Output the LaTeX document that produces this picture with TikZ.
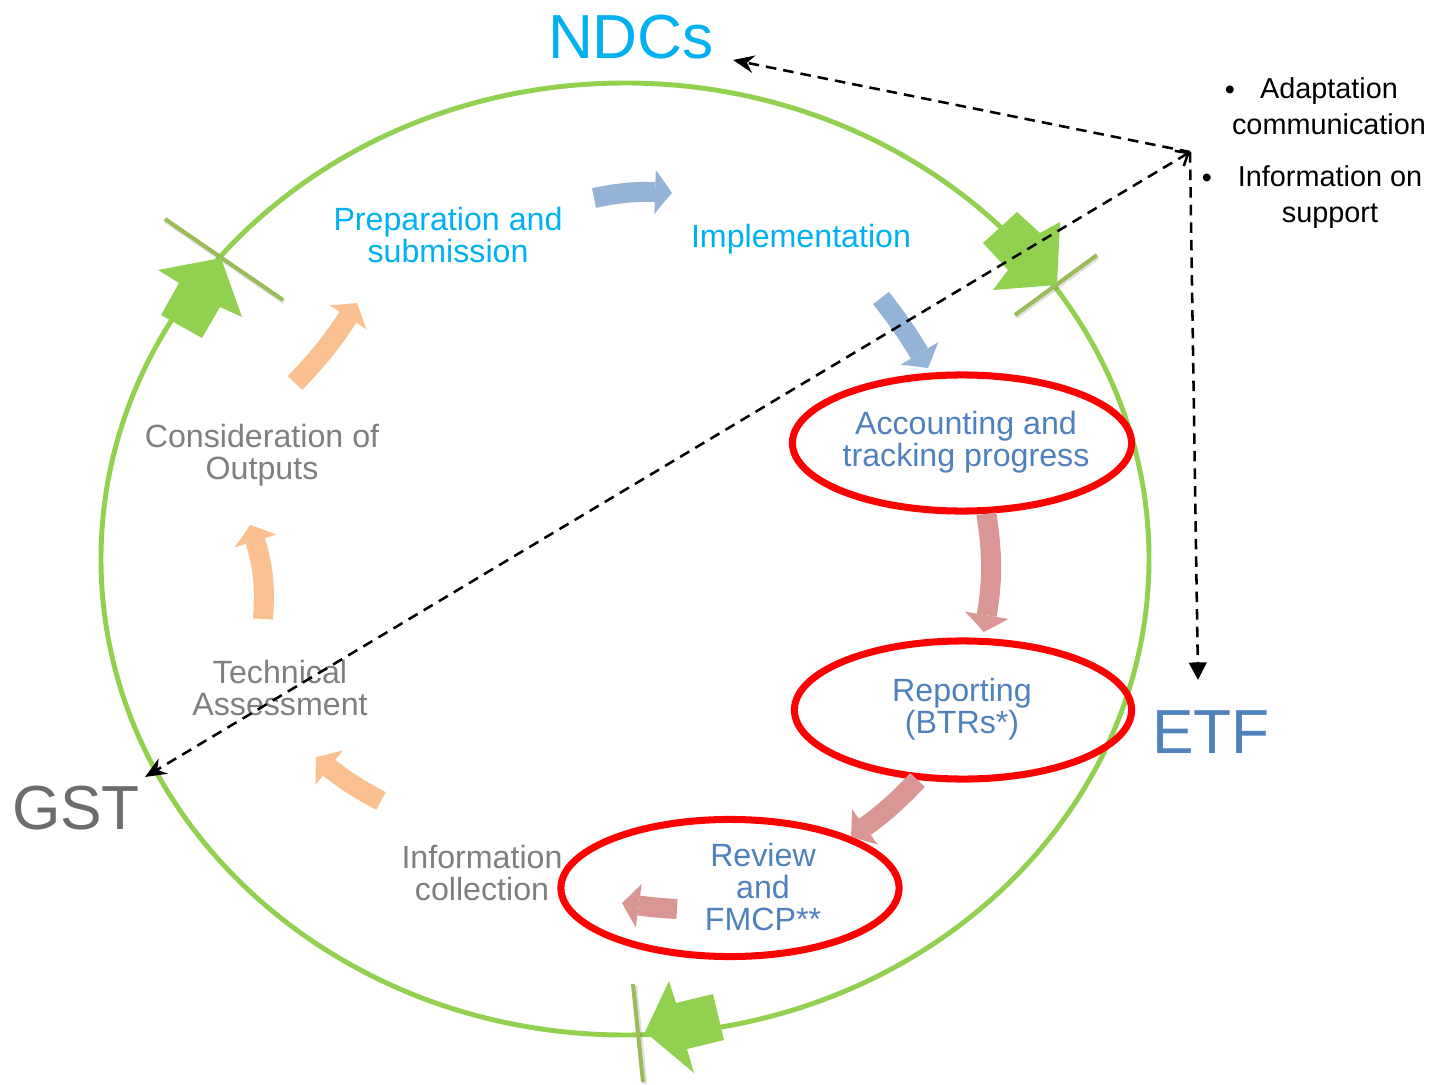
\documentclass[tikz,border=0pt]{standalone}
\usepackage{fontspec}
\setmainfont{Liberation Sans}
\usetikzlibrary{arrows.meta,shapes.geometric,bending}
\definecolor{cgreen}{RGB}{146,208,80}
\definecolor{colive}{RGB}{155,187,89}
\definecolor{ccyan}{RGB}{0,176,240}
\definecolor{csteel}{RGB}{79,129,189}
\definecolor{cgray}{RGB}{127,127,127}
\definecolor{cblue}{RGB}{149,179,215}
\definecolor{corange}{RGB}{250,192,144}
\definecolor{cpink}{RGB}{217,150,148}
\definecolor{cred}{RGB}{255,0,0}
\begin{document}
\begin{tikzpicture}[x=0.01cm,y=-0.01cm,
  lbl/.style={inner sep=0pt, align=center, font=\fontsize{9.15}{9.1}\selectfont},
  side/.style={inner sep=0pt, align=center, font=\fontsize{8.2}{10.25}\selectfont},
  big/.style={inner sep=0pt, font=\fontsize{17.7}{20}\selectfont},
  redell/.style={ellipse, draw=cred, line width=2pt, inner sep=0pt},
  fatarrow/.style={draw=#1, line width=5.7pt,
    -{Triangle[length=4.8pt, width=12.5pt, bend, line width=0pt, fill=#1]}},
  tick/.style={draw=colive, line width=1.15pt},
  tickshadow/.style={draw=black, opacity=0.12, line width=1.3pt},
  dashline/.style={draw=black, line width=0.72pt, dash pattern=on 3pt off 2pt}
]
\useasboundingbox (0,0) rectangle (1439,1085);

% main cycle
\draw[cgreen, line width=1.4pt] (625,559) ellipse [x radius=524, y radius=476];

% tick marks
\draw[tickshadow] (166,221) -- (284,302);
\draw[tick] (165,219) -- (283,300);
\draw[tickshadow] (1016,317) -- (1098,257);
\draw[tick] (1015,315) -- (1097,255);
\draw[tickshadow] (635,986) -- (645,1084);
\draw[tick] (633,984) -- (643,1082);

% green arrows
\fill[cgreen] (221,258) -- (242,317) -- (220,307) -- (202,338) -- (161,315) -- (179,283) -- (158,270) -- cycle;
\fill[cgreen] (1057,285) -- (1060,222) -- (1040,233) -- (1017,212) -- (983,243) -- (1008,270) -- (993,290) -- cycle;
\fill[cgreen] (645,1032) -- (669,981) -- (676,1003) -- (713,994) -- (724,1040) -- (687,1049) -- (694,1073) -- cycle;

% red ellipses
\node[redell, minimum width=3.39cm, minimum height=1.36cm] (accE) at (962,443) {};
\node[redell, minimum width=3.37cm, minimum height=1.38cm] (repE) at (963,710) {};
\node[redell, minimum width=3.38cm, minimum height=1.37cm] (revE) at (730,888) {};

% labels
\node[big, text=ccyan] (ndc) at (631,37) {NDCs};
\node[big, text=csteel] (etf) at (1211,732) {ETF};
\node[big, text=cgray!85!black] (gst) at (76,808) {GST};

\node[lbl, text=ccyan] (prep) at (448,235) {Preparation and\\submission};
\node[lbl, text=ccyan] (impl) at (801,239) {Implementation};
\node[lbl, text=csteel] (acc) at (966,442) {Accounting and\\tracking progress};
\node[lbl, text=csteel] (rep) at (962,709) {Reporting\\(BTRs*)};
\node[lbl, text=csteel] (rev) at (763,887) {Review\\and\\FMCP**};
\node[lbl, text=cgray] (info) at (482,873) {Information\\collection};
\node[lbl, text=cgray] (tech) at (280,688) {Technical\\Assessment};
\node[lbl, text=cgray] (cons) at (262,455) {Consideration of\\Outputs};

\node[side] (b1) at (1230,93) {•};
\node[side] (adapt) at (1329,106) {Adaptation\\communication};
\node[side] (b2) at (1207,181) {•};
\node[side] (supp) at (1330,197) {Information on\\support};

% small flow arrows
\coordinate (o3s) at (381,801); \coordinate (o3e) at (316,757);
\coordinate (o2s) at (263,619); \coordinate (o2e) at (250,525);
\coordinate (o1s) at (295,383); \coordinate (o1e) at (357,303);
\coordinate (b1s) at (594,198); \coordinate (b1e) at (672,193);
\coordinate (b2s) at (881,298); \coordinate (b2e) at (928,368);
\coordinate (r3s) at (677,909); \coordinate (r3e) at (622,903);
\draw[fatarrow=corange] (o3s) to[bend left=6] (o3e);
\draw[fatarrow=corange] (o2s) to[bend right=12] (o2e);
\draw[fatarrow=corange] (o1s) to[bend right=6] (o1e);
\draw[fatarrow=cblue] (b1s) to[bend left=8] (b1e);
\draw[fatarrow=cblue] (b2s) to[bend left=4] (b2e);
\draw[fatarrow=cpink] (accE.-71) to[bend left=10] ([shift={(0,-6)}]repE.74);
\draw[fatarrow=cpink] (repE.-123) to[bend left=6] (revE.23);
\draw[fatarrow=cpink] (r3s) to[bend left=3] (r3e);

% dashed links
\coordinate (hub) at (1190,152);
\coordinate (ndcend) at (733,60);
\coordinate (gstend) at (145,777);
\coordinate (etfend) at (1198,680);
\draw[dashline, -{Stealth[length=6pt,width=5pt]}] (hub) -- (ndcend);
\draw[dashline, {Straight Barb[length=3pt,width=5pt]}-{Stealth[length=6pt,width=5pt]}] (hub) -- (gstend);
\draw[dashline, -{Triangle[length=5pt,width=5pt]}] (hub) -- (etfend);
\end{tikzpicture}
\end{document}
